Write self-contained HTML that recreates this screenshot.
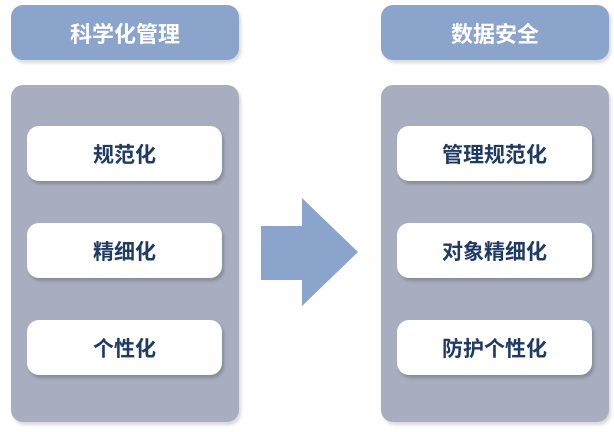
<!DOCTYPE html>
<html><head><meta charset="utf-8"><style>
body{margin:0;width:614px;height:432px;background:#fff;position:relative;overflow:hidden;font-family:"Liberation Sans","Noto Sans CJK SC",sans-serif;font-weight:bold}
.h{position:absolute;height:55px;width:228px;background:#8aa4cc;border-radius:12px;color:#fff;font-size:22px;display:flex;align-items:center;justify-content:center;box-shadow:2px 3px 3px rgba(0,0,0,.15)}
.p{position:absolute;top:85px;height:337px;width:228px;background:#a8aebf;border-radius:12px;box-shadow:2px 3px 3px rgba(0,0,0,.15)}
.b{position:absolute;width:195px;height:55px;background:#fff;border-radius:12px;color:#1f3a63;font-size:21px;display:flex;align-items:center;justify-content:center;box-shadow:2px 3px 3px rgba(0,0,0,.2)}
</style></head><body>
<div class="h" style="left:11px;top:5px">科学化管理</div>
<div class="h" style="left:381px;top:5px">数据安全</div>
<div class="p" style="left:11px"></div>
<div class="p" style="left:381px"></div>
<div class="b" style="left:27px;top:126px">规范化</div>
<div class="b" style="left:27px;top:223px">精细化</div>
<div class="b" style="left:27px;top:320px">个性化</div>
<div class="b" style="left:397px;top:126px">管理规范化</div>
<div class="b" style="left:397px;top:223px">对象精细化</div>
<div class="b" style="left:397px;top:320px">防护个性化</div>
<svg style="position:absolute;left:0;top:0" width="614" height="432"><polygon points="261,226 302,226 302,198 358,252 302,306 302,280 261,280" fill="#8aa4cc"/></svg>
</body></html>
